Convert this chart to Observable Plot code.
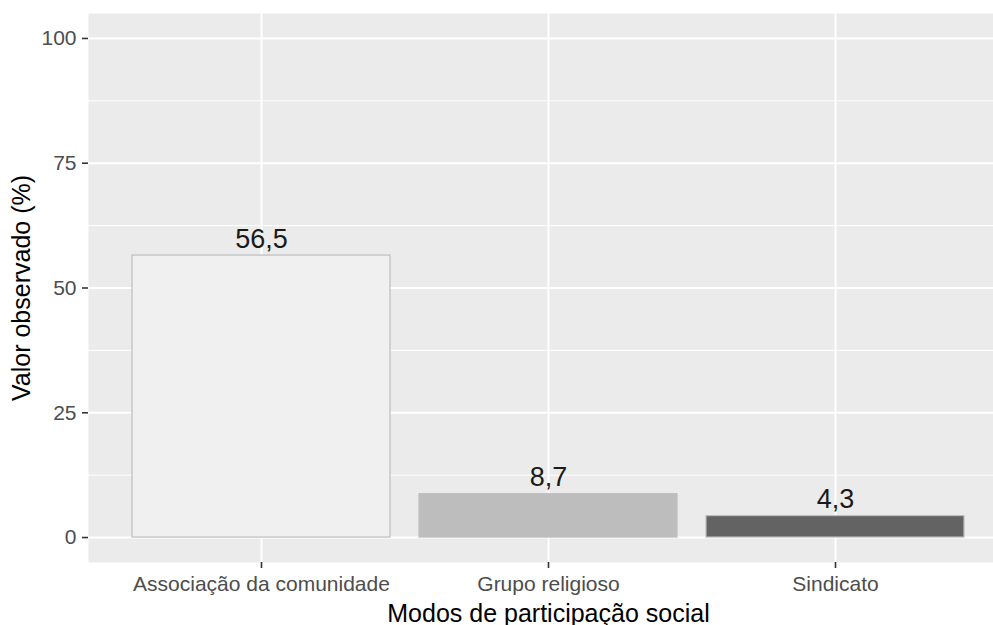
<!DOCTYPE html>
<html><head><meta charset="utf-8">
<script src="https://cdn.jsdelivr.net/npm/d3@7"></script>
<script src="https://cdn.jsdelivr.net/npm/@observablehq/plot@0.6"></script>
<style>body{margin:0;background:#fff} svg{overflow:hidden;display:block}</style>
</head><body><div id="chart"></div>
<script>
const categories = ["Associação da comunidade", "Grupo religioso", "Sindicato"];
const values = [56.5, 8.7, 4.3];
const yTicks = [0, 25, 50, 75, 100];
const yMinor = [12.5, 37.5, 62.5, 87.5];
const barFills = ["#f0f0f0", "#bdbdbd", "#636363"];
const xTitle = "Modos de participação social";
const yTitle = "Valor observado (%)";

const data = categories.map((c, i) => ({cat: c, value: values[i]}));
const fmt = v => v.toFixed(1).replace(".", ",");
const font = "'Liberation Sans', Arial, sans-serif";

const chart = Plot.plot({
  width: 993, height: 625,
  marginLeft: 88, marginRight: 0, marginTop: 13, marginBottom: 63,
  style: {fontFamily: font, background: "#fff", overflow: "hidden"},
  x: {domain: categories, range: [88, 1008], paddingInner: 0.1, paddingOuter: 0.15, label: null, axis: null},
  y: {domain: [-5, 105], range: [562, 13], label: null, axis: null},
  color: {domain: categories, range: barFills},
  marks: [
    Plot.frame({fill: "#ebebeb"}),
    Plot.ruleY(yMinor, {stroke: "#fff", strokeWidth: 1}),
    Plot.ruleY(yTicks, {stroke: "#fff", strokeWidth: 2}),
    Plot.ruleX(categories, {x: d => d, stroke: "#fff", strokeWidth: 2}),
    Plot.barY(data, {x: "cat", y: "value", fill: "cat", stroke: "#bebebe", strokeWidth: 1.2, inset: 0}),
    Plot.text(data, {x: "cat", y: "value", text: d => fmt(d.value), lineAnchor: "bottom", dy: -8, fontSize: 27, fill: "#1a1a1a"}),
    Plot.axisY({ticks: yTicks, tickSize: 6, tickPadding: 6, fontSize: 21, stroke: "#333", strokeWidth: 1.6, fill: "#4d4d4d", label: null, tickFormat: d => d}),
    Plot.axisX({tickSize: 6, tickPadding: 8, fontSize: 21, stroke: "#333", strokeWidth: 1.6, fill: "#4d4d4d", label: null}),
    Plot.text([xTitle], {frameAnchor: "bottom", lineAnchor: "bottom", dx: 7.5, dy: 59, fontSize: 25, fill: "#000"}),
    Plot.text([yTitle], {frameAnchor: "left", rotate: -90, textAnchor: "middle", lineAnchor: "middle", dx: -67, fontSize: 25, fill: "#000"})
  ]
});
document.getElementById("chart").appendChild(chart);
</script>
</body></html>
